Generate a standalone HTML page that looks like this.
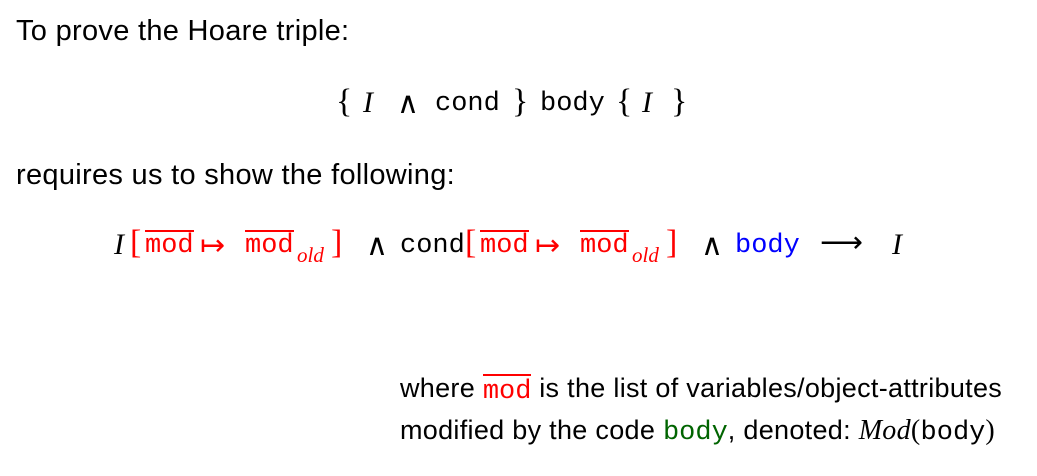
<!DOCTYPE html>
<html><head><meta charset="utf-8"><style>
html,body{margin:0;padding:0;background:#fff;}
body{width:1037px;height:476px;position:relative;overflow:hidden;font-family:"Liberation Sans",sans-serif;color:#000;}
.a{position:absolute;white-space:nowrap;line-height:1;}
.s{font-size:29px;letter-spacing:0.3px;}
.m{font-family:"Liberation Mono",monospace;font-size:27px;letter-spacing:0;}
.i{font-family:"Liberation Serif",serif;font-style:italic;font-size:30px;}
.r{font-family:"Liberation Serif",serif;font-size:30px;}
.b{font-family:"Liberation Serif",serif;font-size:34px;font-weight:100;}
.red{color:#f00;}
.ov{border-top:2px solid #f00;padding-top:1px;}
.sub{font-family:"Liberation Serif",serif;font-style:italic;font-size:21px;}
.ar{font-family:"DejaVu Sans",sans-serif;font-size:30px;font-weight:100;}
</style></head><body>
<div class="a s" style="left:16px;top:17px;">To prove the Hoare triple:</div>

<div class="a b" style="left:336px;top:85px;">{</div>
<div class="a i" style="left:363px;top:88px;">I</div>
<div class="a r" style="left:397px;top:89px;">∧</div>
<div class="a m" style="left:435px;top:91px;">cond</div>
<div class="a b" style="left:512px;top:85px;">}</div>
<div class="a m" style="left:540px;top:91px;">body</div>
<div class="a b" style="left:616px;top:85px;">{</div>
<div class="a i" style="left:642px;top:88px;">I</div>
<div class="a b" style="left:671px;top:85px;">}</div>

<div class="a s" style="left:16px;top:161px;">requires us to show the following:</div>

<div class="a i" style="left:114px;top:230px;">I</div>
<div class="a b red" style="left:130px;top:226px;">[</div>
<div class="a m red ov" style="left:145px;top:230px;">mod</div>
<div class="a r red" style="left:200px;top:231px;">↦</div>
<div class="a m red ov" style="left:245px;top:230px;">mod</div>
<div class="a sub red" style="left:297px;top:245px;">old</div>
<div class="a b red" style="left:331px;top:226px;">]</div>
<div class="a r" style="left:366px;top:231px;">∧</div>
<div class="a m" style="left:400px;top:233px;">cond</div>
<div class="a b red" style="left:465px;top:226px;">[</div>
<div class="a m red ov" style="left:480px;top:230px;">mod</div>
<div class="a r red" style="left:535px;top:231px;">↦</div>
<div class="a m red ov" style="left:580px;top:230px;">mod</div>
<div class="a sub red" style="left:632px;top:245px;">old</div>
<div class="a b red" style="left:666px;top:226px;">]</div>
<div class="a r" style="left:701px;top:231px;">∧</div>
<div class="a m" style="left:735px;top:233px;color:#00f;">body</div>
<div class="a ar" style="left:820px;top:228px;">⟶</div>
<div class="a i" style="left:892px;top:230px;">I</div>

<div class="a s" style="left:400px;top:375px;font-size:27px;">where <span class="m red ov" style="position:relative;top:1px;">mod</span> is the list of variables/object-attributes</div>
<div class="a s" style="left:400px;top:417px;font-size:27px;">modified by the code <span class="m" style="color:#006400;">body</span>, denoted: <span class="i" style="font-size:28px;">Mod</span><span class="r" style="font-size:28px;">(</span><span class="m">body</span><span class="r" style="font-size:28px;">)</span></div>
</body></html>
